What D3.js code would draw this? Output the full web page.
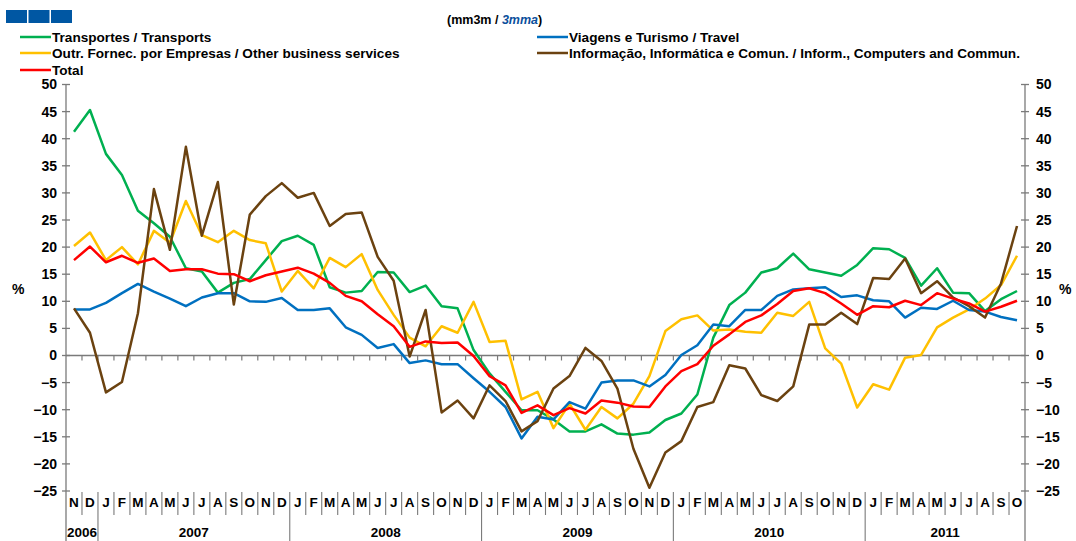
<!DOCTYPE html>
<html>
<head>
<meta charset="utf-8">
<script src="https://cdn.jsdelivr.net/npm/d3@7"></script>
<style>
  body { margin: 0; background: #fff; }
  text { font-family: "Liberation Sans", Arial, sans-serif; font-weight: bold; }
</style>
</head>
<body>
<div id="chart"></div>
<script>
var svgWidth = 1076;
var svgHeight = 541;

// months from Nov 2006 to Oct 2011
var monthLabels = ["N","D",
  "J","F","M","A","M","J","J","A","S","O","N","D",
  "J","F","M","A","M","J","J","A","S","O","N","D",
  "J","F","M","A","M","J","J","A","S","O","N","D",
  "J","F","M","A","M","J","J","A","S","O","N","D",
  "J","F","M","A","M","J","J","A","S","O"];
var years = ["2006", "2007", "2008", "2009", "2010", "2011"];
var yearMonths = [2, 12, 12, 12, 12, 10];
var yTicks = [-25, -20, -15, -10, -5, 0, 5, 10, 15, 20, 25, 30, 35, 40, 45, 50];

var transportes = [41.3, 45.3, 37.2, 33.3, 26.7, 24.4, 21.9, 16.1, 15.5, 11.6, 13.4, 14.1, 17.6, 21.1, 22.1,
  20.4, 12.6, 11.6, 11.9, 15.4, 15.3, 11.7, 12.9, 9.1, 8.7, 1.0, -3.3, -6.7, -10.1, -10.1,
  -11.8, -14.0, -14.0, -12.7, -14.4, -14.6, -14.2, -11.9, -10.7, -7.2, 3.3, 9.3, 11.6, 15.3, 16.1,
  18.8, 15.9, 15.3, 14.7, 16.7, 19.8, 19.6, 18.0, 12.9, 16.1, 11.6, 11.5, 8.2, 10.4, 11.9];
var viagens = [8.5, 8.5, 9.7, 11.5, 13.2, 11.8, 10.5, 9.1, 10.7, 11.5, 11.5, 10.0, 9.9, 10.6, 8.4,
  8.4, 8.7, 5.2, 3.8, 1.4, 2.1, -1.4, -0.9, -1.6, -1.6, -4.2, -6.7, -9.5, -15.3, -11.3,
  -11.8, -8.6, -9.8, -5.0, -4.6, -4.6, -5.7, -3.6, 0.1, 1.9, 5.7, 5.4, 8.4, 8.4, 11.0,
  12.2, 12.4, 12.6, 10.8, 11.1, 10.2, 10.0, 7.0, 8.8, 8.6, 10.1, 8.4, 8.1, 7.1, 6.5];
var outrFornec = [20.2, 22.7, 17.6, 20.0, 16.8, 23.0, 20.8, 28.5, 22.2, 20.9, 23.0, 21.3, 20.7, 11.8, 15.6,
  12.4, 18.0, 16.3, 18.7, 12.1, 7.5, 3.3, 1.7, 5.4, 4.2, 9.9, 2.5, 2.7, -8.1, -6.7,
  -13.4, -8.9, -13.7, -9.5, -11.6, -8.9, -3.8, 4.5, 6.7, 7.4, 4.6, 4.8, 4.4, 4.2, 7.9,
  7.3, 9.9, 1.3, -1.5, -9.6, -5.3, -6.3, -0.4, 0.1, 5.2, 7.0, 8.5, 10.5, 13.0, 18.4];
var informacao = [8.7, 4.2, -6.8, -4.9, 7.8, 30.7, 19.5, 38.5, 22.1, 32.0, 9.4, 26.0, 29.4, 31.8, 29.1,
  30.0, 23.9, 26.1, 26.4, 18.2, 13.8, -0.2, 8.4, -10.5, -8.3, -11.6, -5.5, -8.4, -14.0, -12.1,
  -6.1, -3.8, 1.4, -1.0, -6.1, -17.2, -24.4, -17.9, -15.8, -9.5, -8.6, -1.8, -2.4, -7.3, -8.4,
  -5.7, 5.7, 5.7, 7.9, 5.8, 14.3, 14.1, 17.9, 11.5, 13.7, 10.7, 9.1, 7.0, 13.3, 23.9];
var total = [17.6, 20.1, 17.2, 18.4, 17.1, 17.9, 15.6, 15.9, 15.9, 15.1, 15.0, 13.7, 14.8, 15.5, 16.2,
  15.1, 13.4, 11.0, 10.0, 7.6, 5.4, 1.6, 2.6, 2.3, 2.4, -0.1, -3.8, -5.5, -10.6, -9.2,
  -11.0, -9.7, -10.7, -8.3, -8.7, -9.4, -9.5, -5.7, -2.9, -1.6, 1.8, 3.9, 6.2, 7.4, 9.5,
  11.9, 12.4, 11.5, 9.6, 7.5, 9.1, 8.9, 10.1, 9.3, 11.5, 10.5, 9.6, 8.1, 9.0, 10.1];

var series = [
  { name: "Transportes / Transports", values: transportes, color: "#00b050" },
  { name: "Viagens e Turismo / Travel", values: viagens, color: "#0070c0" },
  { name: "Outr. Fornec. por Empresas / Other business services", values: outrFornec, color: "#ffc000" },
  { name: "Informação, Informática e Comun. / Inform., Computers and Commun.", values: informacao, color: "#6b4210" },
  { name: "Total", values: total, color: "#ff0000" }
];
// draw order (Total on top of others)
var drawOrder = [0, 2, 1, 3, 4];

var plot = { left: 66, right: 1025, top: 84.5, bottom: 491 };
var axisColor = "#7a7a7a";

var svg = d3.select("#chart")
  .append("svg")
  .attr("width", svgWidth)
  .attr("height", svgHeight);

var x = d3.scaleBand()
  .domain(d3.range(monthLabels.length))
  .range([plot.left, plot.right]);

var y = d3.scaleLinear()
  .domain([-25, 50])
  .range([plot.bottom, plot.top]);

// header: blue blocks and subtitle
svg.selectAll("rect.block")
  .data([0, 1, 2])
  .enter()
  .append("rect")
  .attr("class", "block")
  .attr("x", d => 6 + d * 22.5)
  .attr("y", 10)
  .attr("width", 21)
  .attr("height", 13)
  .attr("fill", "#0057a3");

var sub = svg.append("text")
  .attr("x", 447)
  .attr("y", 24)
  .attr("font-size", 12.5);
sub.append("tspan").attr("fill", "#000").text("(mm3m / ");
sub.append("tspan").attr("fill", "#0b4f9c").attr("font-style", "italic").text("3mma");
sub.append("tspan").attr("fill", "#000").text(")");

// legend
var legendPos = [
  { x: 20, y: 37 }, { x: 537, y: 37 },
  { x: 20, y: 53 }, { x: 537, y: 53 },
  { x: 20, y: 70 }
];
var legend = svg.selectAll("g.legend")
  .data(series)
  .enter()
  .append("g")
  .attr("class", "legend")
  .attr("transform", (d, i) => `translate(${legendPos[i].x}, ${legendPos[i].y})`);
legend.append("line")
  .attr("x1", 0).attr("x2", 31)
  .attr("stroke", d => d.color)
  .attr("stroke-width", 2.5);
legend.append("text")
  .attr("x", 32)
  .attr("y", 5)
  .attr("font-size", 13.6)
  .attr("fill", "#000")
  .text(d => d.name);

// y axes
var leftAxis = d3.axisLeft(y).tickValues(yTicks).tickSize(0).tickPadding(9);
var rightAxis = d3.axisRight(y).tickValues(yTicks).tickSize(0).tickPadding(11);

var gl = svg.append("g")
  .attr("transform", `translate(${plot.left}, 0)`)
  .call(leftAxis);
var gr = svg.append("g")
  .attr("transform", `translate(${plot.right}, 0)`)
  .call(rightAxis);
[gl, gr].forEach(g => {
  g.select(".domain").remove();
  g.selectAll("text").attr("font-size", 14).attr("fill", "#000")
    .attr("font-family", "Liberation Sans, Arial, sans-serif").attr("font-weight", "bold");
});

// axis lines (extend down through category labels)
[plot.left, plot.right].forEach(px => {
  svg.append("line")
    .attr("x1", px).attr("x2", px)
    .attr("y1", plot.top).attr("y2", svgHeight)
    .attr("stroke", axisColor).attr("stroke-width", 1.3);
  svg.selectAll(null)
    .data(yTicks)
    .enter()
    .append("line")
    .attr("x1", px - 4).attr("x2", px + 4)
    .attr("y1", d => y(d)).attr("y2", d => y(d))
    .attr("stroke", axisColor).attr("stroke-width", 1.3);
});

svg.append("text").attr("x", 12).attr("y", 294).attr("font-size", 14).text("%");
svg.append("text").attr("x", 1059).attr("y", 294).attr("font-size", 14).text("%");

// zero line with month ticks
svg.append("line")
  .attr("x1", plot.left).attr("x2", plot.right)
  .attr("y1", y(0)).attr("y2", y(0))
  .attr("stroke", axisColor).attr("stroke-width", 1.3);

var bounds = d3.range(1, monthLabels.length).map(i => x(i));
svg.selectAll("line.ztick")
  .data(bounds)
  .enter()
  .append("line")
  .attr("class", "ztick")
  .attr("x1", d => d).attr("x2", d => d)
  .attr("y1", y(0)).attr("y2", y(0) + 5)
  .attr("stroke", axisColor).attr("stroke-width", 1.2);

// category labels: months and years
var yearStart = [];
var acc = 0;
yearMonths.forEach(n => { yearStart.push(acc); acc += n; });

svg.selectAll("line.msep")
  .data(bounds)
  .enter()
  .append("line")
  .attr("class", "msep")
  .attr("x1", d => d).attr("x2", d => d)
  .attr("y1", plot.bottom + 1)
  .attr("y2", (d, i) => yearStart.indexOf(i + 1) >= 0 ? svgHeight : plot.bottom + 24)
  .attr("stroke", axisColor).attr("stroke-width", 1.1);

svg.selectAll("text.month")
  .data(monthLabels)
  .enter()
  .append("text")
  .attr("class", "month")
  .attr("x", (d, i) => x(i) + x.bandwidth() / 2)
  .attr("y", 507)
  .attr("text-anchor", "middle")
  .attr("font-size", 13.5)
  .text(d => d);

svg.selectAll("text.year")
  .data(years)
  .enter()
  .append("text")
  .attr("class", "year")
  .attr("x", (d, i) => (x(yearStart[i]) + x(yearStart[i]) + yearMonths[i] * x.bandwidth()) / 2)
  .attr("y", 537)
  .attr("text-anchor", "middle")
  .attr("font-size", 13.5)
  .text(d => d);

// lines
var line = d3.line()
  .x((d, i) => x(i) + x.bandwidth() / 2)
  .y(d => y(d));

svg.selectAll("path.series")
  .data(drawOrder.map(i => series[i]))
  .enter()
  .append("path")
  .attr("class", "series")
  .attr("d", d => line(d.values))
  .attr("fill", "none")
  .attr("stroke", d => d.color)
  .attr("stroke-width", 2.5)
  .attr("stroke-linejoin", "round");
</script>
</body>
</html>
